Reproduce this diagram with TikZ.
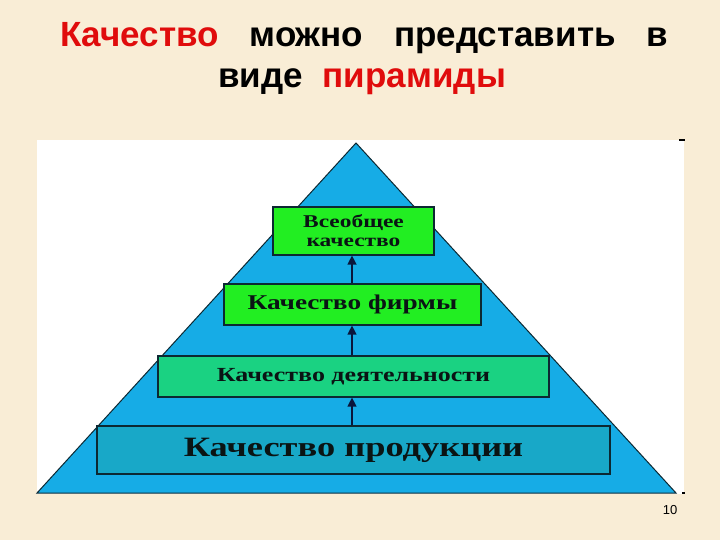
\documentclass[tikz,border=0pt]{standalone}
\usepackage{fontspec}
\setmainfont{Liberation Sans}
\newfontfamily\boxfont[FakeStretch=1.3]{Liberation Serif}
\usetikzlibrary{arrows.meta}

\definecolor{slidebg}{RGB}{249,237,214}
\definecolor{pyrblue}{RGB}{22,172,230}
\definecolor{topgreen}{RGB}{34,238,34}
\definecolor{midgreen}{RGB}{26,210,130}
\definecolor{basecyan}{RGB}{24,168,200}
\definecolor{titlered}{RGB}{224,12,12}
\definecolor{edgedark}{RGB}{12,40,50}
\definecolor{arrownavy}{RGB}{10,22,60}

\tikzset{
	level/.style={draw=edgedark, line width=1.2pt, inner sep=0pt, text={rgb,255:red,10;green,20;blue,20}, align=center},
	uparrow/.style={draw=arrownavy, line width=1.3pt, -{Triangle[width=9pt,length=9pt]}},
	titletext/.style={font=\bfseries\fontsize{35}{40}\selectfont}
}

\begin{document}
\begin{tikzpicture}[x=1pt,y=1pt,yscale=-1,xscale=1]
	%Background
	\fill[slidebg] (0,0) rectangle (720,540);
	%Shape: Rectangle (white panel)
	\fill[white] (37,140) rectangle (684,494);
	\draw[line width=1.5pt] (679,140) -- (685,140);
	\draw[line width=1.5pt] (682,493) -- (685,493);
	%Shape: Triangle
	\draw[draw=edgedark, line width=1pt, fill=pyrblue] (356,143) -- (676,493) -- (37,493) -- cycle;

	% Levels
	\node[level, fill=basecyan, minimum width=513pt, minimum height=48pt, font=\boxfont\bfseries\fontsize{28}{30}\selectfont] (prod) at (353.5,450) {Качество продукции};
	\node[level, fill=midgreen, minimum width=391pt, minimum height=41pt, font=\boxfont\bfseries\fontsize{20}{22}\selectfont] (deyat) at (353.5,376.5) {Качество деятельности};
	\node[level, fill=topgreen, minimum width=257pt, minimum height=41pt, font=\boxfont\bfseries\fontsize{21}{23}\selectfont] (firm) at (352.5,304.5) {Качество фирмы};
	\node[level, fill=topgreen, minimum width=161pt, minimum height=48pt, font=\boxfont\bfseries\fontsize{18}{19}\selectfont] (total) at (353.5,231) {Всеобщее\\качество};

	% Arrows
	\draw[uparrow] (prod.north -| 352,0) -- (deyat.south -| 352,0);
	\draw[uparrow] (deyat.north -| 352,0) -- (firm.south -| 352,0);
	\draw[uparrow] (firm.north -| 352,0) -- (total.south -| 352,0);

	% Text Node
	\node[titletext] (line1) at (364,38) {\makebox[608pt][s]{\color{titlered}Качество \color{black}можно представить в}};
	% Text Node
	\node[titletext] (line2) at (362,82) {виде\hspace{20pt}\textcolor{titlered}{пирамиды}};
	% Text Node
	\node[font=\fontsize{13}{15}\selectfont] (pagenum) at (670,510) {10};
\end{tikzpicture}
\end{document}
